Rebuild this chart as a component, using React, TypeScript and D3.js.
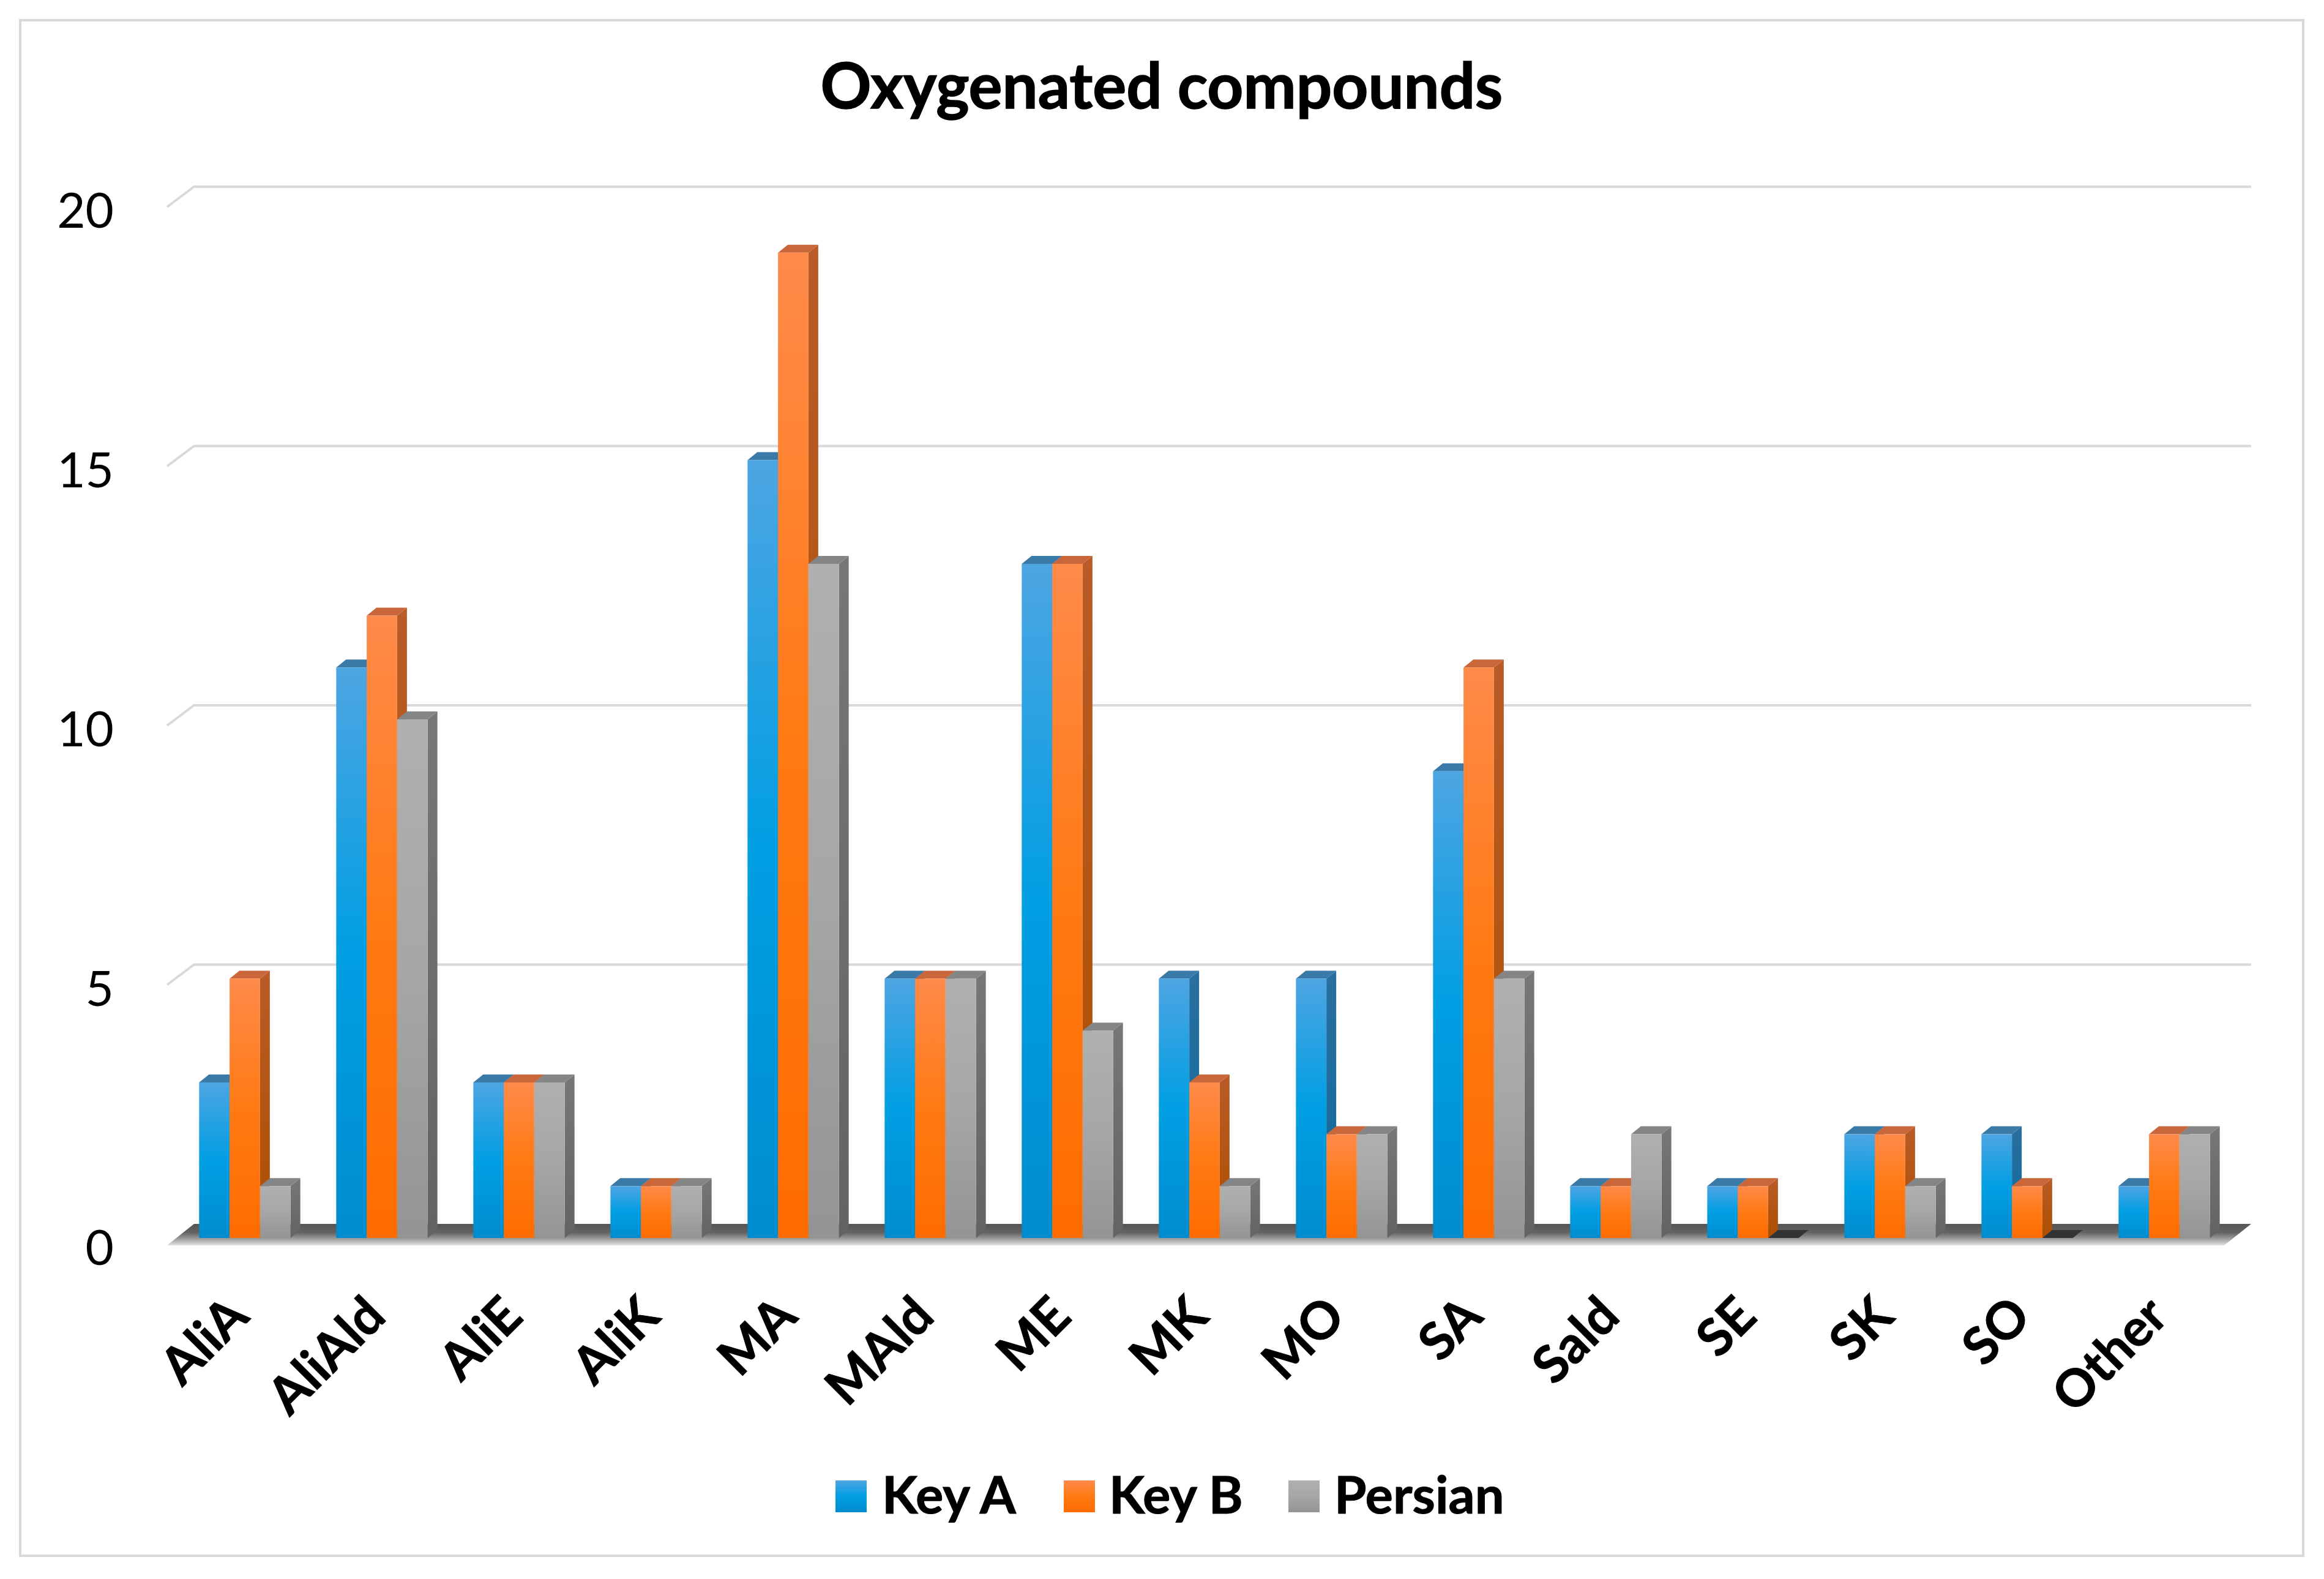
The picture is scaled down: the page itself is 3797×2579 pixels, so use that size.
import React from "react";
import * as d3 from "d3";

const categories = ["AliA","AliAld","AliE","AliK","MA","MAld","ME","MK","MO","SA","Sald","SE","SK","SO","Other"];
const keyA = [3,11,3,1,15,5,13,5,5,9,1,1,2,2,1];
const keyB = [5,12,3,1,19,5,13,3,2,11,1,1,2,1,2];
const persian = [1,10,3,1,13,5,4,1,2,5,2,0,1,0,2];
const yTicks = [0,5,10,15,20];
const seriesNames = ["Key A","Key B","Persian"];
const seriesValues = [keyA,keyB,persian];
const fronts = [["#4ea5e2","#009ee3","#008ccf"],["#ff8a4a","#ff7a14","#ff6c00"],["#b0b0b0","#a6a6a6","#949494"]];
const sides = [["#2a6f9f","#0b6a9c"],["#b85c28","#ad4e00"],["#777777","#636363"]];
const tops = ["#3a7aa8","#c9673a","#858585"];
const FONT = "Lato, Carlito, 'Open Sans', sans-serif";

const W = 3797, H = 2579;
const x0 = d3.scaleBand<string>().domain(categories).range([288,3648]).paddingInner(1/3).paddingOuter(1/6);
const x1 = d3.scaleBand<number>().domain([0,1,2]).range([0,x0.bandwidth()]);
const y = d3.scaleLinear().domain([0,20]).range([2022,328]);
const BDX = 16, BDY = 13;     // bar depth
const backShift = -23;        // gridline plane relative to bar-front baseline
const floorL = 273, floorR = 3634, floorDX = 44, floorBack = 1999, floorFront = 2034;

export default function App() {
  const poly = (p: number[][]) => p.map(d => d.join(",")).join(" ");
  return (
    <svg width={W} height={H} style={{position:"absolute",left:0,top:0,background:"#fff"}} fontFamily={FONT}>
      <defs>
        {fronts.map((c,i)=>(
          <linearGradient key={i} id={`f${i}`} x1="0" y1="0" x2="0" y2="1">
            <stop offset="0" stopColor={c[0]}/><stop offset="0.5" stopColor={c[1]}/><stop offset="1" stopColor={c[2]}/>
          </linearGradient>
        ))}
        {sides.map((c,i)=>(
          <linearGradient key={i} id={`s${i}`} x1="0" y1="0" x2="0" y2="1">
            <stop offset="0" stopColor={c[0]}/><stop offset="1" stopColor={c[1]}/>
          </linearGradient>
        ))}
        <linearGradient id="floorG" x1="0" y1="0" x2="0" y2="1">
          <stop offset="0" stopColor="#555"/><stop offset="0.4" stopColor="#626262"/><stop offset="0.68" stopColor="#999"/><stop offset="1" stopColor="#e0e0e0"/>
        </linearGradient>
      </defs>
      <rect x={33} y={33} width={3730} height={2508} fill="#fff" stroke="#d9d9d9" strokeWidth={4}/>
      <text x={1898} y={177} textAnchor="middle" fontSize={103} fontWeight={700} fill="#000" stroke="#000" strokeWidth={1.5}>Oxygenated compounds</text>
      {yTicks.slice(1).map(t=>{
        const yb = y(t)+backShift;
        return <polyline key={t} points={poly([[floorL,yb+33],[floorL+floorDX,yb],[floorR+floorDX,yb]])} fill="none" stroke="#d9d9d9" strokeWidth={4}/>;
      })}
      {yTicks.map(t=>(
        <text key={t} x={186} y={y(t)+44} textAnchor="end" fontSize={80} fill="#000">{t}</text>
      ))}
      <polygon points={poly([[floorL,floorFront],[floorL+floorDX,floorBack],[floorR+floorDX,floorBack],[floorR,floorFront]])} fill="url(#floorG)"/>
      {categories.map((c,ci)=>{
        const gx = x0(c)!;
        return <g key={c}>
          {seriesValues.map((vals,si)=>{
            const v = vals[ci];
            const l = gx + x1(si)!, w = x1.bandwidth(), r = l+w, t = y(v), b = y(0);
            if (v===0) return <polygon key={si} points={poly([[l,b],[l+BDX,b-BDY],[r+BDX,b-BDY],[r,b]])} fill="#333"/>;
            return <g key={si}>
              <polygon points={poly([[r,t],[r+BDX,t-BDY],[r+BDX,b-BDY],[r,b]])} fill={`url(#s${si})`}/>
              <polygon points={poly([[l,t],[l+BDX,t-BDY],[r+BDX,t-BDY],[r,t]])} fill={tops[si]}/>
              <rect x={l} y={t} width={w} height={b-t} fill={`url(#f${si})`}/>
            </g>;
          })}
          <text transform={`translate(${gx+x0.bandwidth()/2+10},2154) rotate(-45)`} textAnchor="end" fontSize={84} fontWeight={700} fill="#000" stroke="#000" strokeWidth={1}>{c}</text>
        </g>;
      })}
      {seriesNames.map((n,i)=>{
        const sx = [1365,1738,2105][i], tx = [1441,1812,2180][i];
        return <g key={n}>
          <rect x={sx} y={2418} width={51} height={52} fill={`url(#f${i})`}/>
          <text x={tx} y={2472} fontSize={85} fontWeight={700} fill="#000" stroke="#000" strokeWidth={1}>{n}</text>
        </g>;
      })}
    </svg>
  );
}
